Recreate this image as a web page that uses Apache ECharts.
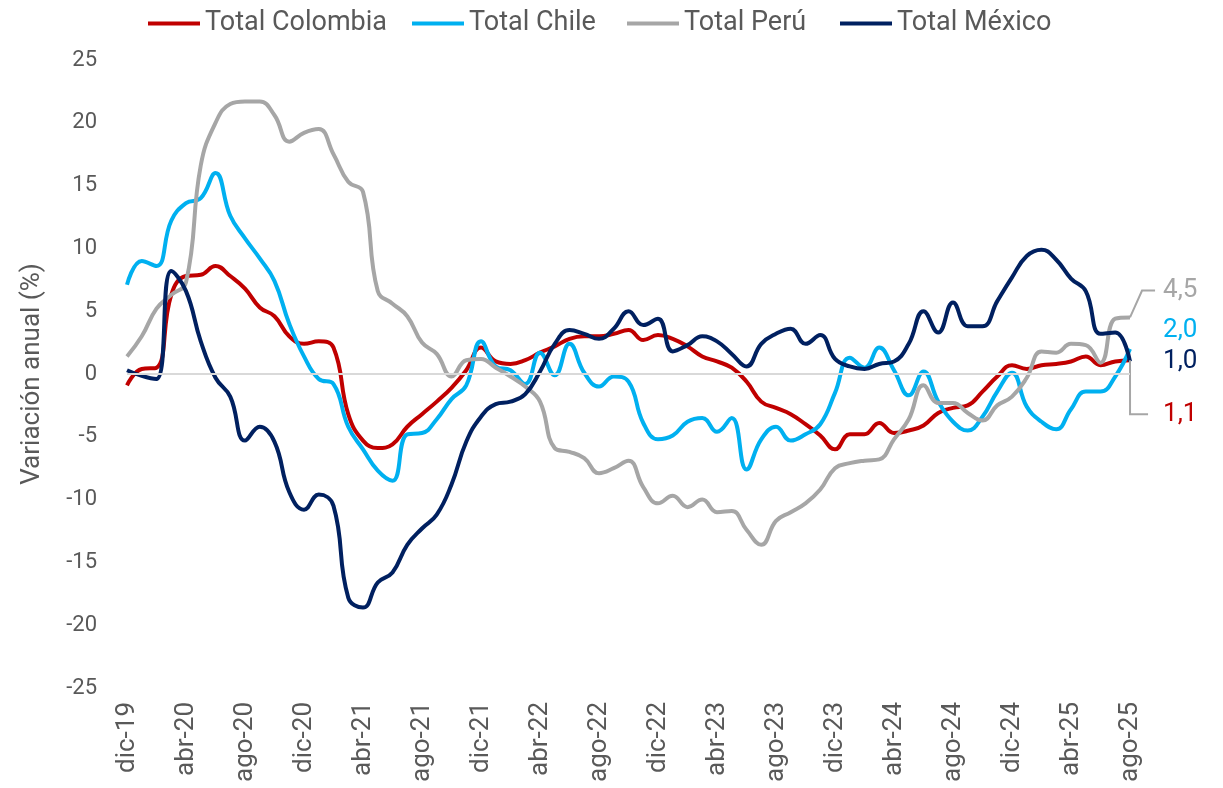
<!DOCTYPE html>
<html>
<head>
<meta charset="utf-8">
<script src="https://cdn.jsdelivr.net/npm/echarts@6/dist/echarts.min.js"></script>
<style>
  html, body { margin: 0; padding: 0; background: #ffffff; }
  #chart { width: 1223px; height: 788px; }
</style>
</head>
<body>
<div id="chart"></div>
<script>
// Variación anual (%) mensual, dic-19 a ago-25
const mesesAbrev = ['ene','feb','mar','abr','may','jun','jul','ago','sep','oct','nov','dic'];
const inicio = { mes: 11, anio: 2019 };   // dic-19
const numMeses = 69;                        // dic-19 .. ago-25

const colombia = [
  -0.9, 0.4, 0.5, 6.3, 7.8, 7.9, 8.6, 7.8, 6.8, 5.3, 4.6, 3.0,
  2.4, 2.6, 2.1, -3.2, -5.3, -5.9, -5.6, -4.2, -3.2, -2.2, -1.1, 0.3,
  2.1, 1.0, 0.8, 1.1, 1.7, 2.2, 2.8, 3.0, 3.0, 3.2, 3.5, 2.7,
  3.1, 2.8, 2.2, 1.4, 1.0, 0.5, -0.6, -2.2, -2.7, -3.2, -4.0, -4.9,
  -6.0, -4.8, -4.8, -3.9, -4.7, -4.5, -4.1, -3.1, -2.7, -2.5, -1.4, -0.2,
  0.7, 0.4, 0.7, 0.8, 1.0, 1.4, 0.7, 1.0, 1.1
];
const chile = [
  7.1, 9.0, 8.6, 12.2, 13.6, 14.0, 16.0, 12.6, 10.8, 9.2, 7.4, 4.0,
  1.4, -0.4, -0.8, -4.2, -6.0, -7.7, -8.5, -4.8, -4.7, -3.6, -2.0, -0.9,
  2.6, 0.6, 0.3, -0.8, 1.7, -0.1, 2.4, 0.1, -1.0, -0.2, -0.6, -3.9,
  -5.2, -4.9, -3.8, -3.5, -4.6, -3.5, -7.6, -5.2, -4.2, -5.3, -4.8, -4.0,
  -1.5, 1.3, 0.5, 2.1, 0.3, -1.7, 0.2, -2.2, -3.8, -4.5, -3.4, -1.4,
  0.1, -2.6, -3.8, -4.4, -2.8, -1.4, -1.4, -0.2, 2.0
];
const peru = [
  1.4, 3.0, 5.2, 6.3, 7.3, 16.6, 20.0, 21.5, 21.7, 21.7, 20.6, 18.5,
  19.2, 19.5, 17.5, 15.3, 14.5, 6.6, 5.6, 4.6, 2.5, 1.6, -0.2, 1.1,
  1.2, 0.5, -0.2, -1.0, -2.2, -5.9, -6.2, -6.7, -7.9, -7.5, -6.9, -9.0,
  -10.3, -9.7, -10.6, -10.0, -11.0, -10.9, -12.4, -13.6, -11.7, -11.0, -10.3, -9.2,
  -7.5, -7.1, -6.9, -6.8, -5.2, -3.6, -0.9, -2.3, -2.3, -3.1, -3.7, -2.5,
  -1.8, -0.3, 1.8, 1.7, 2.4, 2.3, 0.9, 4.4, 4.5
];
const mexico = [
  0.3, -0.15, -0.4, 8.2, 6.6, 2.6, -0.3, -1.8, -5.3, -4.2, -5.4, -9.4,
  -10.8, -9.6, -10.5, -17.8, -18.6, -16.6, -15.8, -13.6, -12.3, -11.2, -8.8, -5.4,
  -3.4, -2.4, -2.2, -1.6, 0.2, 2.4, 3.5, 3.2, 2.8, 3.6, 5.0, 3.9,
  4.4, 1.8, 2.3, 3.0, 2.6, 1.6, 0.6, 2.4, 3.2, 3.6, 2.4, 3.1,
  1.2, 0.6, 0.4, 0.8, 1.0, 2.4, 5.0, 3.3, 5.7, 3.8, 3.8, 5.8,
  7.7, 9.4, 9.9, 9.1, 7.6, 6.6, 3.2, 3.3, 1.0
];

const yTicks = { min: -25, max: 25, step: 5 };

// Etiquetas del eje de categorías: "dic-19", "ene-20", ...
const categorias = [];
for (let k = 0; k < numMeses; k++) {
  const m = (inicio.mes + k) % 12;
  const a = inicio.anio + Math.floor((inicio.mes + k) / 12);
  categorias.push(mesesAbrev[m] + '-' + String(a % 100).padStart(2, '0'));
}

const nombres = ['Total Colombia', 'Total Chile', 'Total Perú', 'Total México'];
const colores = ['#C00000', '#00B0F0', '#A6A6A6', '#002060'];
const textoGris = '#595959';
const guiaGris = '#A6A6A6';
const fuente = 'Roboto, "Noto Sans", sans-serif';

const fmtComa = v => v.toFixed(1).replace('.', ',');

// Etiqueta del último valor: distancia al punto, relleno de la caja y desplazamiento vertical
const etiquetasFinales = [
  { distancia: 18, relleno: [0, 40, 0, 15], dy: 54, guia: true, largoGuia: 18 },  // Colombia
  { distancia: 33, relleno: 0, dy: -18, guia: false, largoGuia: 0 },              // Chile
  { distancia: 25, relleno: [0, 0, 0, 8], dy: -27, guia: true, largoGuia: 13 },   // Perú
  { distancia: 33, relleno: 0, dy: 0, guia: false, largoGuia: 0 }                 // México
];

function conEtiquetaFinal(valores, color, cfg) {
  return valores.map((v, i) => {
    if (i !== valores.length - 1) return v;
    return {
      value: v,
      label: {
        show: true,
        position: 'right',
        distance: cfg.distancia,
        padding: cfg.relleno,
        backgroundColor: 'transparent',
        color: color,
        fontSize: 26,
        fontFamily: fuente,
        formatter: p => fmtComa(p.value)
      }
    };
  });
}

function serie(idx, valores) {
  const color = colores[idx];
  const cfg = etiquetasFinales[idx];
  return {
    name: nombres[idx],
    type: 'line',
    data: conEtiquetaFinal(valores, color, cfg),
    smooth: 0.45,
    symbol: 'circle',
    symbolSize: 0.1,
    showSymbol: true,
    showAllSymbol: true,
    lineStyle: { color: color, width: 4 },
    itemStyle: { color: color },
    label: { show: false },
    labelLayout: { dy: cfg.dy },
    labelLine: {
      show: cfg.guia,
      length2: cfg.largoGuia,
      smooth: false,
      minTurnAngle: 0,
      lineStyle: { color: guiaGris, width: 2 }
    },
    emphasis: { disabled: true },
    z: 3
  };
}

// Una leyenda por serie, con el espaciado propio de cada elemento
const posLeyenda = [148, 412, 627, 840];
const leyendas = nombres.map((n, i) => ({
  data: [n],
  left: posLeyenda[i],
  top: 10,
  padding: 0,
  icon: 'rect',
  itemWidth: 52,
  itemHeight: 4,
  itemGap: 5,
  textStyle: { fontSize: 27, color: textoGris, fontFamily: fuente }
}));

const chart = echarts.init(document.getElementById('chart'), null, { renderer: 'canvas' });

chart.setOption({
  animation: false,
  backgroundColor: '#ffffff',
  textStyle: { fontFamily: fuente },
  legend: leyendas,
  grid: { left: 127, right: 93, top: 60, bottom: 100, containLabel: false },
  xAxis: {
    type: 'category',
    data: categorias,
    boundaryGap: false,
    axisLine: { show: false },
    axisTick: { show: false },
    axisLabel: {
      interval: 3,
      rotate: 90,
      margin: 14,
      fontSize: 26,
      color: textoGris,
      fontFamily: fuente
    },
    splitLine: { show: false }
  },
  yAxis: {
    type: 'value',
    min: yTicks.min,
    max: yTicks.max,
    interval: yTicks.step,
    name: 'Variación anual (%)',
    nameLocation: 'middle',
    nameRotate: 90,
    nameGap: 82,
    nameTextStyle: { fontSize: 26, color: textoGris, fontFamily: fuente },
    axisLine: { show: false },
    axisTick: { show: false },
    splitLine: { show: false },
    axisLabel: { margin: 30, fontSize: 22, color: textoGris, fontFamily: fuente }
  },
  series: [
    {
      name: 'cero',
      type: 'line',
      data: [],
      z: 1,
      silent: true,
      markLine: {
        silent: true,
        symbol: ['none', 'none'],
        label: { show: false },
        lineStyle: { color: '#D9D9D9', width: 2, type: 'solid' },
        data: [{ yAxis: 0 }]
      }
    },
    serie(0, colombia),
    serie(1, chile),
    serie(2, peru),
    serie(3, mexico)
  ]
});
</script>
</body>
</html>
